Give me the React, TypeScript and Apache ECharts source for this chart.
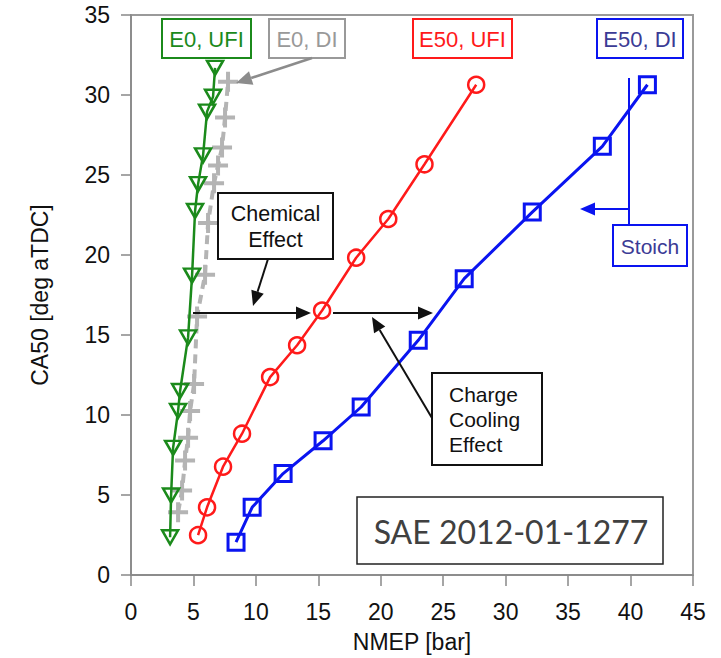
import React, { useEffect, useRef } from "react";
import * as echarts from "echarts";

// ---- data ----
const xTicks = [0, 5, 10, 15, 20, 25, 30, 35, 40, 45];
const yTicks = [0, 5, 10, 15, 20, 25, 30, 35];

const nmepE0UFI = [3.13, 3.21, 3.37, 3.77, 3.93, 4.57, 4.89, 5.13, 5.37, 5.77, 6.09, 6.57, 6.73];
const ca50E0UFI = [2.36, 4.97, 7.95, 10.25, 11.5, 14.85, 18.71, 22.75, 24.43, 26.23, 28.96, 29.89, 31.7];

const nmepE0DI = [3.77, 4.09, 4.33, 4.57, 4.73, 5.05, 5.29, 5.93, 6.17, 6.65, 6.97, 7.29, 7.53, 7.77];
const ca50E0DI = [3.92, 5.28, 7.15, 8.58, 10.25, 11.93, 16.16, 18.77, 22.0, 24.49, 25.6, 26.72, 28.59, 30.83];

const nmepE50UFI = [5.37, 6.09, 7.37, 8.89, 11.14, 13.3, 15.3, 18.03, 20.6, 23.5, 27.64];
const ca50E50UFI = [2.49, 4.23, 6.77, 8.83, 12.37, 14.36, 16.53, 19.83, 22.25, 25.67, 30.64];

const nmepE50DI = [8.41, 9.7, 12.18, 15.38, 18.43, 23.0, 26.68, 32.13, 37.74, 41.35];
const ca50E50DI = [2.05, 4.23, 6.34, 8.39, 10.5, 14.67, 18.52, 22.68, 26.79, 30.64];

const seriesNames = ["E0, UFI", "E0, DI", "E50, UFI", "E50, DI"];
const annotationTexts = ["Chemical", "Effect", "Charge", "Cooling", "Stoich", "SAE 2012-01-1277"];

const pair = (xs: number[], ys: number[]) => xs.map((x, i) => [x, ys[i]]);

const FONT = "'Liberation Sans', Arial, Helvetica, sans-serif";
const GREEN = "#1b8a1b";
const GRAY = "#b4b4b4";
const RED = "#ff1a1a";
const BLUE = "#0a14f0";

function arrow(x1: number, y1: number, x2: number, y2: number, color: string, width: number, headLen = 15, headW = 6.5) {
  const dx = x2 - x1, dy = y2 - y1;
  const len = Math.sqrt(dx * dx + dy * dy);
  const ux = dx / len, uy = dy / len;
  const bx = x2 - ux * headLen, by = y2 - uy * headLen;
  const px = -uy, py = ux;
  return [
    { type: "line", z: 20, shape: { x1, y1, x2: bx, y2: by }, style: { stroke: color, lineWidth: width } },
    {
      type: "polygon", z: 20,
      shape: { points: [[x2, y2], [bx + px * headW, by + py * headW], [bx - px * headW, by - py * headW]] },
      style: { fill: color },
    },
  ];
}

function box(x: number, y: number, w: number, h: number, stroke: string, lw: number) {
  return { type: "rect", z: 19, shape: { x, y, width: w, height: h }, style: { fill: "#fff", stroke, lineWidth: lw } };
}

function label(text: string, x: number, y: number, color: string, size: number, align = "center", family = FONT) {
  return {
    type: "text", z: 21, x, y,
    style: { text, fill: color, font: `${size}px ${family}`, textAlign: align, textVerticalAlign: "middle" },
  };
}

export default function App() {
  const ref = useRef<HTMLDivElement>(null);
  useEffect(() => {
    document.body.style.margin = "0";
    if (!ref.current) return;
    const chart = echarts.init(ref.current, null, { renderer: "svg" });
    const plus = "path://M4,0H6V4H10V6H6V10H4V6H0V4H4Z";
    const graphic: any[] = [
      // legend-like boxes
      box(162, 19, 89, 39, GREEN, 2), label(seriesNames[0], 206.5, 39, GREEN, 22),
      box(269, 19, 76, 39, "#999", 2), label(seriesNames[1], 307, 39, "#999", 22),
      ...arrow(312, 58, 236, 83, "#8c8c8c", 2.5, 16, 7),
      box(413, 19, 99, 39, RED, 2), label(seriesNames[2], 462.5, 39, RED, 22),
      box(597, 19, 86, 39, BLUE, 2), label(seriesNames[3], 640, 39, "#3b3b95", 22),
      // stoich
      { type: "line", z: 20, shape: { x1: 629, y1: 78, x2: 629, y2: 224 }, style: { stroke: BLUE, lineWidth: 2 } },
      ...arrow(629, 209, 580, 209, BLUE, 2, 15, 6.5),
      box(613, 225, 74, 41, BLUE, 2), label(annotationTexts[4], 650, 246, "#3b3b95", 21),
      // chemical effect
      box(218, 193, 115, 66, "#111", 2),
      label(annotationTexts[0], 275.5, 214, "#111", 21.5),
      label(annotationTexts[1], 275.5, 240, "#111", 21.5),
      ...arrow(268, 259, 253, 306, "#111", 2),
      ...arrow(193, 313, 311, 313, "#111", 2),
      ...arrow(333, 313, 433, 313, "#111", 2),
      // charge cooling effect
      box(432, 373, 110, 92, "#111", 2),
      label(annotationTexts[2], 449, 394, "#111", 21, "left"),
      label(annotationTexts[3], 449, 419, "#111", 21, "left"),
      label(annotationTexts[1], 449, 444, "#111", 21, "left"),
      ...arrow(432, 418, 372, 317, "#111", 2),
      // SAE reference
      box(357, 497, 306, 67, "#222", 1.5),
      label(annotationTexts[5], 511, 531, "#404040", 32, "center", "Lato, 'Open Sans', sans-serif"),
    ];
    chart.setOption({
      animation: false,
      backgroundColor: "#fff",
      grid: { left: 131, right: 28, top: 15, bottom: 80, show: true, borderColor: "#9a9a9a", borderWidth: 2, backgroundColor: "transparent" },
      xAxis: {
        type: "value", min: xTicks[0], max: xTicks[xTicks.length - 1], interval: 5,
        offset: 10,
        name: "NMEP [bar]", nameLocation: "middle", nameGap: 45,
        nameTextStyle: { fontFamily: FONT, fontSize: 23, color: "#111" },
        axisLine: { show: true, lineStyle: { color: "#888", width: 1.5 } },
        axisTick: { show: true, length: 11, lineStyle: { color: "#888", width: 1.5 } },
        axisLabel: { fontFamily: FONT, fontSize: 23, color: "#111", margin: 15 },
        splitLine: { show: false },
      },
      yAxis: {
        type: "value", min: yTicks[0], max: yTicks[yTicks.length - 1], interval: 5,
        offset: 7,
        name: "CA50 [deg aTDC]", nameLocation: "middle", nameGap: 73, nameRotate: 90,
        nameTextStyle: { fontFamily: FONT, fontSize: 23, color: "#111" },
        axisLine: { show: true, lineStyle: { color: "#888", width: 1.5 } },
        axisTick: { show: true, length: 10, lineStyle: { color: "#888", width: 1.5 } },
        axisLabel: { fontFamily: FONT, fontSize: 23, color: "#111", margin: 14 },
        splitLine: { show: false },
      },
      graphic,
      series: [
        {
          name: seriesNames[1], type: "line", data: pair(nmepE0DI, ca50E0DI), z: 3,
          symbol: plus, symbolSize: 20,
          lineStyle: { color: GRAY, width: 4, type: [9, 6] },
          itemStyle: { color: GRAY, borderWidth: 0 },
        },
        {
          name: seriesNames[0], type: "line", data: pair(nmepE0UFI, ca50E0UFI), z: 4,
          symbol: "triangle", symbolRotate: 180, symbolSize: [16, 14],
          lineStyle: { color: GREEN, width: 2.5 },
          itemStyle: { color: "rgba(0,0,0,0)", borderColor: GREEN, borderWidth: 2.5 },
        },
        {
          name: seriesNames[2], type: "line", data: pair(nmepE50UFI, ca50E50UFI), z: 4,
          symbol: "circle", symbolSize: 16,
          lineStyle: { color: RED, width: 2.5 },
          itemStyle: { color: "rgba(0,0,0,0)", borderColor: RED, borderWidth: 2.5 },
        },
        {
          name: seriesNames[3], type: "line", data: pair(nmepE50DI, ca50E50DI), z: 4,
          symbol: "rect", symbolSize: 16,
          lineStyle: { color: BLUE, width: 3 },
          itemStyle: { color: "rgba(0,0,0,0)", borderColor: BLUE, borderWidth: 3 },
        },
      ],
    });
    return () => chart.dispose();
  }, []);
  return <div ref={ref} style={{ width: 721, height: 658 }} />;
}
